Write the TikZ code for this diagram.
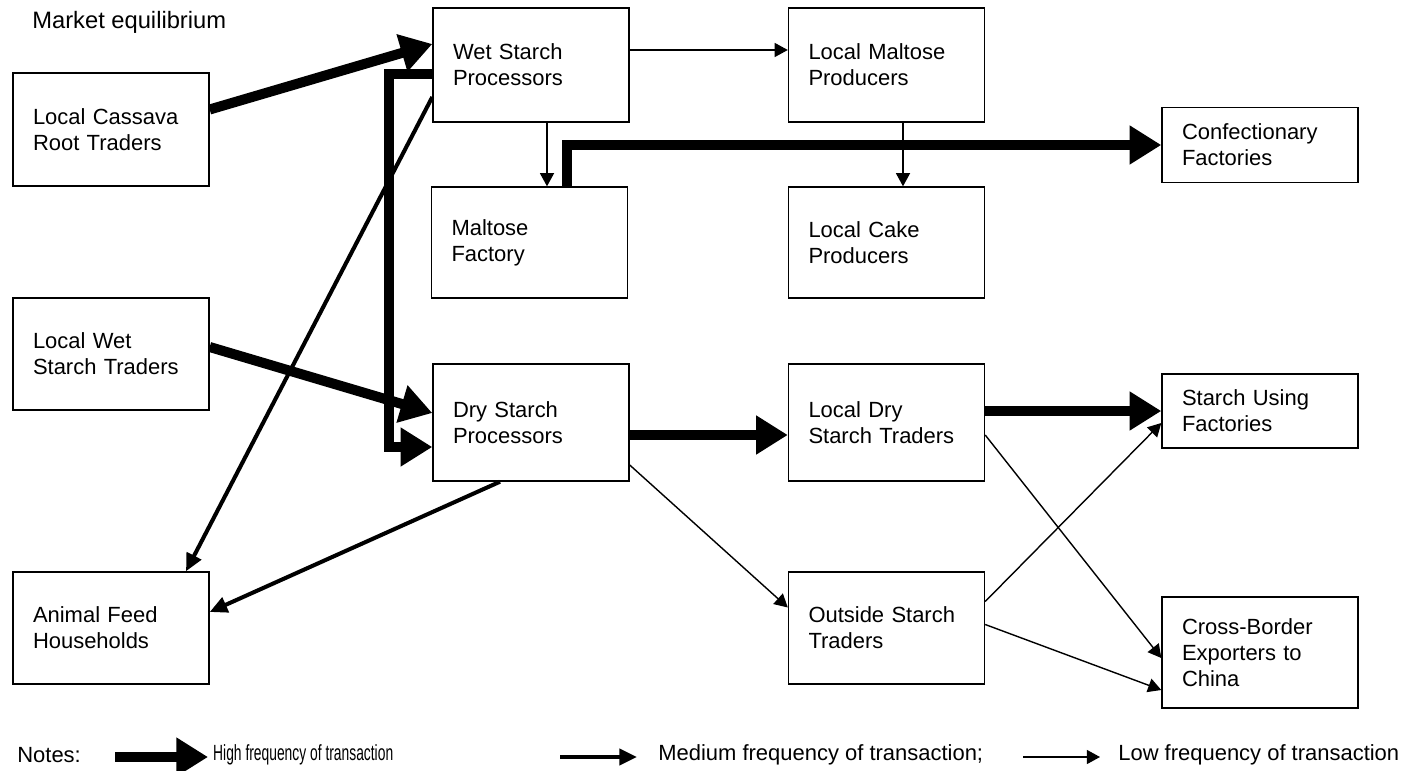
\documentclass[tikz,border=0pt]{standalone}
\usepackage{fontspec}
\setmainfont{Liberation Sans}
\usetikzlibrary{arrows.meta,positioning,calc}
\newcommand\boxfont{\fontsize{12.5}{14.7}\selectfont}
\tikzset{
  actor/.style={draw,line width=0.8pt,minimum width=3.92cm,inner xsep=0.4cm,
    text width=3.12cm,align=left,font=\boxfont},
  % three weights of transaction
  hi/.style={-{Triangle[length=18pt,width=21pt]},line width=5.7pt},
  mid/.style={-{Triangle[length=10pt,width=9pt]},line width=2.3pt},
  lo/.style={-{Triangle[length=7.5pt,width=8pt]},line width=0.8pt},
  note/.style={anchor=west,inner sep=0pt,font=\boxfont},
}
\begin{document}
\begin{tikzpicture}
    \useasboundingbox (0,0) rectangle (28.24,-15.42);
    \node[note,font=\fontsize{13.5}{16}\selectfont] (title) at (0.64,-0.44) {Market equilibrium};
    \foreach \n/\x/\y/\h/\t in {
      cassava/2.22/-2.59/2.26/{Local Cassava\\Root Traders},
      wetproc/10.62/-1.30/2.28/{Wet Starch\\Processors},
      maltprod/17.73/-1.30/2.28/{Local Maltose\\Producers},
      confect/25.2/-2.9/1.5/{Confectionary\\Factories},
      maltfac/10.59/-4.85/2.22/{Maltose\\Factory},
      cake/17.73/-4.85/2.22/{Local Cake\\Producers},
      wettrad/2.22/-7.08/2.24/{Local Wet\\Starch Traders},
      dryproc/10.62/-8.45/2.34/{Dry Starch\\Processors},
      drytrad/17.73/-8.45/2.34/{Local Dry\\Starch Traders},
      usingfac/25.2/-8.22/1.48/{Starch Using\\Factories},
      feed/2.22/-12.56/2.24/{Animal Feed\\Households},
      outside/17.73/-12.56/2.24/{Outside Starch\\Traders},
      cross/25.2/-13.05/2.22/{Cross-Border\\Exporters to\\China}}
    {
      \node[actor,minimum height=\h cm] (\n) at (\x,\y) {\t};
    }
    % high frequency
    \draw[hi] ([yshift=0.4cm]cassava.east) -- ([yshift=0.42cm]wetproc.west);
    \draw[hi] ([yshift=-0.18cm]wetproc.west) -- ++(-0.86,0) |- ([yshift=-0.49cm]dryproc.west);
    \draw[hi] ([yshift=0.14cm]wettrad.east) -- ([yshift=0.19cm]dryproc.west);
    \draw[hi] ([yshift=-0.25cm]dryproc.east) -- ([yshift=-0.25cm]drytrad.west);
    \draw[hi] ([xshift=0.74cm]maltfac.north) |- (confect.west);
    \draw[hi] (drytrad.east |- usingfac.west) -- (usingfac.west);
    % medium frequency
    \draw[mid] ([yshift=-0.64cm]wetproc.west) -- ([xshift=1.5cm]feed.north);
    \draw[mid] ([xshift=-0.62cm]dryproc.south) -- ([yshift=0.32cm]feed.east);
    % low frequency
    \draw[lo] ([yshift=0.3cm]wetproc.east) -- ([yshift=0.3cm]maltprod.west);
    \draw[lo] ([xshift=0.32cm]wetproc.south) -- ([xshift=0.32cm]wetproc.south |- maltfac.north);
    \draw[lo] ([xshift=0.33cm]maltprod.south) -- ([xshift=0.33cm]cake.north);
    \draw[lo] ([yshift=-0.85cm]dryproc.east) -- ([yshift=0.41cm]outside.west);
    \draw[lo] ([yshift=-0.25cm]drytrad.east) -- ([yshift=-0.11cm]cross.west);
    \draw[lo] ([yshift=0.53cm]outside.east) -- ([yshift=-0.24cm]usingfac.west);
    \draw[lo] ([yshift=0.07cm]outside.east) -- ([yshift=-0.75cm]cross.west);
    % legend
    \node[note] (notes) at (0.34,-15.1) {Notes:};
    \coordinate (hiA) at (2.3,-15.14);
    \coordinate (hiB) at (4.16,-15.14);
    \coordinate (midA) at (11.2,-15.14);
    \coordinate (midB) at (12.74,-15.14);
    \coordinate (loA) at (20.46,-15.14);
    \coordinate (loB) at (22.0,-15.14);
    \draw[hi] (hiA) -- (hiB);
    \draw[mid] (midA) -- (midB);
    \draw[lo] (loA) -- (loB);
    \node[note,xscale=0.63,transform shape] (hitxt) at (4.26,-15.1) {High frequency of transaction};
    \node[note] (midtxt) at (13.16,-15.1) {Medium frequency of transaction;};
    \node[note] (lotxt) at (22.36,-15.1) {Low frequency of transaction};
\end{tikzpicture}
\end{document}
